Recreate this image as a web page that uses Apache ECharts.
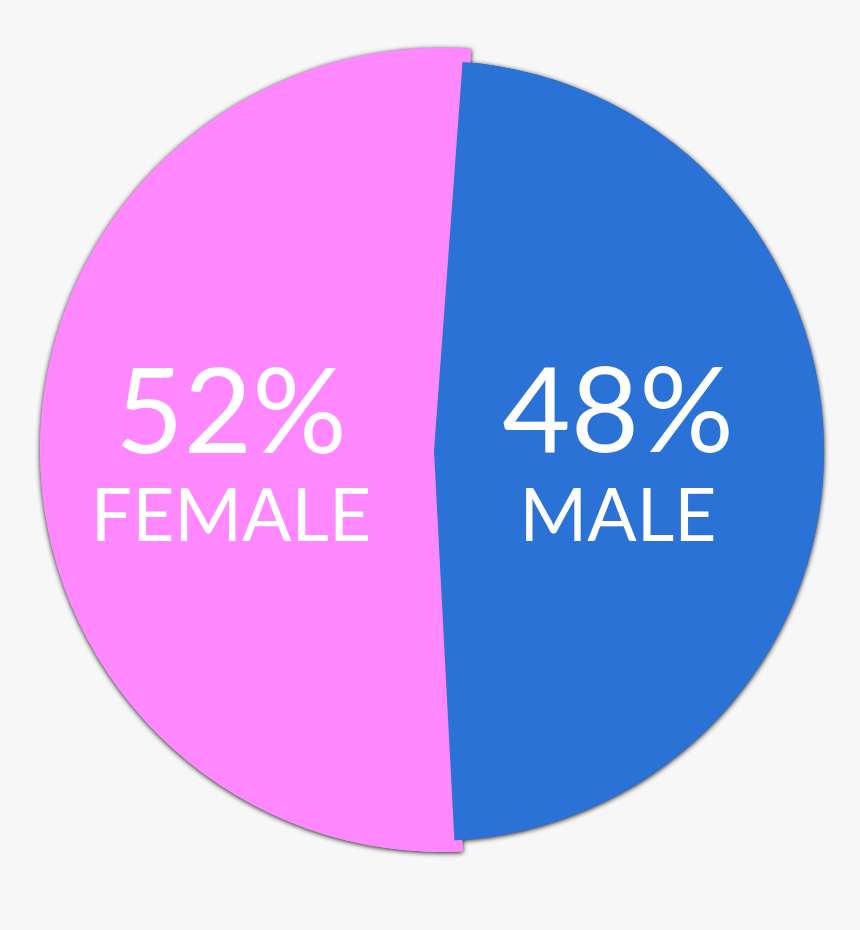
<!DOCTYPE html>
<html>
<head>
<meta charset="utf-8">
<script src="https://cdn.jsdelivr.net/npm/echarts@6/dist/echarts.min.js"></script>
<style>
  html, body { margin: 0; padding: 0; background: #F7F7F7; }
  #chart { width: 860px; height: 930px; }
</style>
</head>
<body>
<div id="chart"></div>
<script>
const categories = ['FEMALE', 'MALE'];
const values = [52, 48];
const colors = ['#FF88FF', '#2A72D5'];

const chart = echarts.init(document.getElementById('chart'));

const geom = [
  { center: [442, 450], radius: 402, dx: -7, dy: 10 },   // female slice geometry
  { center: [434, 451], radius: 390, dx: -14, dy: 4 }    // male slice geometry
];

function layer(visibleIndex, withShadow, withLabel) {
  return {
    type: 'pie',
    silent: true,
    animation: false,
    startAngle: -87,
    clockwise: true,
    center: geom[visibleIndex].center,
    radius: geom[visibleIndex].radius,
    emphasis: { disabled: true },
    labelLine: { show: false },
    labelLayout: { dx: geom[visibleIndex].dx, dy: geom[visibleIndex].dy },
    data: categories.map((name, i) => ({
      name: name,
      value: values[i],
      itemStyle: {
        color: i === visibleIndex ? colors[i] : 'rgba(0,0,0,0)',
        shadowBlur: withShadow ? 5 : 0,
        shadowColor: 'rgba(0,0,0,0.9)',
        shadowOffsetY: withShadow ? 1 : 0,
        borderWidth: 0
      },
      label: {
        show: withLabel && i === visibleIndex,
        position: 'inside',
        formatter: p => '{pct|' + p.value + '%}\n{name|' + p.name + '}',
        rich: {
          pct: { fontFamily: 'Lato', fontSize: 118, color: '#fff', lineHeight: 120, align: 'center' },
          name: { fontFamily: 'Lato', fontSize: 73, color: '#fff', lineHeight: 86, align: 'center' }
        }
      }
    }))
  };
}

chart.setOption({
  backgroundColor: '#F7F7F7',
  series: [
    layer(0, true, false),
    layer(1, true, false),
    layer(0, false, true),
    layer(1, false, true)
  ]
});
</script>
</body>
</html>
